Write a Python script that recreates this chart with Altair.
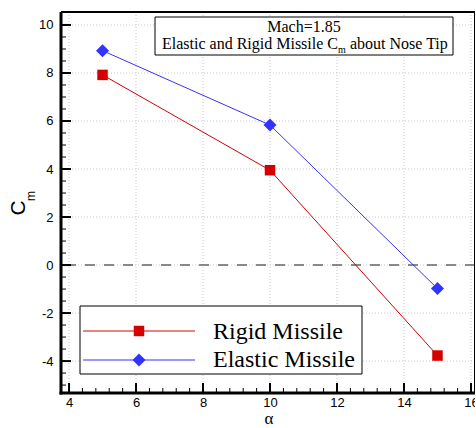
import altair as alt
import pandas as pd

alpha = [5, 10, 15]
rigid = [7.92, 3.95, -3.77]
elastic = [8.93, 5.83, -0.98]

x_major = [4, 6, 8, 10, 12, 14, 16]
y_major = [-4, -2, 0, 2, 4, 6, 8, 10]
x_minor = [round(3.6 + 0.4 * i, 2) for i in range(33)]
y_minor = [round(-5 + 0.5 * i, 2) for i in range(31)]

W, H = 414, 381
XD = [3.76, 16.12]
YD = [-5.33, 10.54]

xs = alt.Scale(domain=XD, nice=False, zero=False)
ys = alt.Scale(domain=YD, nice=False, zero=False)

axis_common = dict(
    labelFont="Liberation Sans", labelFontSize=13, labelColor="black",
    ticks=False, domain=False, grid=False, title=None,
    labelFlush=False, labelOverlap=False, labelExpr="'' + datum.value",
)
XAX = alt.Axis(values=x_major, labelPadding=3, **axis_common)
YAX = alt.Axis(values=y_major, labelPadding=8, **axis_common)


def X(field):
    return alt.X(field, scale=xs, axis=XAX)


def Y(field):
    return alt.Y(field, scale=ys, axis=YAX)


df = pd.DataFrame({
    "alpha": alpha * 2,
    "cm": rigid + elastic,
    "series": ["Rigid Missile"] * 3 + ["Elastic Missile"] * 3,
})
RED = "#d40000"
BLUE = "#3333ff"

# grid
gx = alt.Chart(pd.DataFrame({"v": x_major})).mark_rule(
    color="#c8c8c8", strokeDash=[1, 2], strokeWidth=1
).encode(x=X("v:Q"))
gy = alt.Chart(pd.DataFrame({"v": y_major})).mark_rule(
    color="#c8c8c8", strokeDash=[1, 2], strokeWidth=1
).encode(y=Y("v:Q"))

# zero line
zero = alt.Chart(pd.DataFrame({"v": [0]})).mark_rule(
    color="#666666", strokeDash=[10, 9], strokeWidth=1.5
).encode(y=Y("v:Q"))

# inward ticks
tx_major = alt.Chart(pd.DataFrame({"v": x_major})).mark_rule(color="black", strokeWidth=2).encode(
    x=X("v:Q"), y=alt.value(H), y2=alt.value(H - 10))
tx_minor = alt.Chart(pd.DataFrame({"v": [v for v in x_minor if XD[0] <= v <= XD[1]]})).mark_rule(
    color="black", strokeWidth=1).encode(
    x=X("v:Q"), y=alt.value(H), y2=alt.value(H - 5))
ty_major = alt.Chart(pd.DataFrame({"v": y_major})).mark_rule(color="black", strokeWidth=2).encode(
    y=Y("v:Q"), x=alt.value(0), x2=alt.value(10))
ty_minor = alt.Chart(pd.DataFrame({"v": [v for v in y_minor if YD[0] <= v <= YD[1]]})).mark_rule(
    color="black", strokeWidth=1).encode(
    y=Y("v:Q"), x=alt.value(0), x2=alt.value(5))

one = pd.DataFrame({"a": [0]})

# frame
left = alt.Chart(one).mark_rule(color="black", strokeWidth=3).encode(
    x=alt.value(0), y=alt.value(0), y2=alt.value(H + 1.5))
bottom = alt.Chart(one).mark_rule(color="black", strokeWidth=3).encode(
    y=alt.value(H), x=alt.value(-1.5), x2=alt.value(W + 2))
top = alt.Chart(one).mark_rule(color="black", strokeWidth=2).encode(
    y=alt.value(0), x=alt.value(0), x2=alt.value(W + 2))
right = alt.Chart(one).mark_rule(color="black", strokeWidth=2).encode(
    x=alt.value(W), y=alt.value(0), y2=alt.value(H))

color_scale = alt.Scale(domain=["Rigid Missile", "Elastic Missile"], range=[RED, BLUE])
lines = alt.Chart(df).mark_line(strokeWidth=1).encode(
    x=X("alpha:Q"),
    y=Y("cm:Q"),
    color=alt.Color("series:N", scale=color_scale, legend=None),
    detail="series:N",
)
pts_r = alt.Chart(df[df.series == "Rigid Missile"]).mark_point(
    shape="square", filled=True, size=110, color=RED, opacity=1
).encode(x=X("alpha:Q"), y=Y("cm:Q"))
pts_e = alt.Chart(df[df.series == "Elastic Missile"]).mark_point(
    shape="diamond", filled=True, size=170, color=BLUE, opacity=1
).encode(x=X("alpha:Q"), y=Y("cm:Q"))

# title box
tbox = alt.Chart(one).mark_rect(fill="white", stroke="black", strokeWidth=1).encode(
    x=alt.value(94), x2=alt.value(392), y=alt.value(5), y2=alt.value(43))
t1 = alt.Chart(one).mark_text(font="Liberation Serif", fontSize=16, color="black").encode(
    x=alt.value(243), y=alt.value(15), text=alt.value("Mach=1.85"))
t2a = alt.Chart(one).mark_text(font="Liberation Serif", fontSize=16, color="black", align="right").encode(
    x=alt.value(277), y=alt.value(32), text=alt.value("Elastic and Rigid Missile C"))
t2b = alt.Chart(one).mark_text(font="Liberation Serif", fontSize=10, color="black", align="left").encode(
    x=alt.value(277), y=alt.value(38), text=alt.value("m"))
t2c = alt.Chart(one).mark_text(font="Liberation Serif", fontSize=16, color="black", align="left").encode(
    x=alt.value(289), y=alt.value(32), text=alt.value("about Nose Tip"))

# legend box
lbox = alt.Chart(one).mark_rect(fill="white", stroke="black", strokeWidth=1).encode(
    x=alt.value(19), x2=alt.value(301), y=alt.value(294), y2=alt.value(362))
lr_line = alt.Chart(one).mark_rule(color=RED, strokeWidth=1).encode(
    x=alt.value(22), x2=alt.value(134), y=alt.value(319))
lr_pt = alt.Chart(one).mark_point(shape="square", filled=True, size=110, color=RED, opacity=1).encode(
    x=alt.value(78), y=alt.value(319))
lr_tx = alt.Chart(one).mark_text(font="Liberation Serif", fontSize=24, color="black", align="left").encode(
    x=alt.value(152), y=alt.value(320), text=alt.value("Rigid Missile"))
le_line = alt.Chart(one).mark_rule(color=BLUE, strokeWidth=1).encode(
    x=alt.value(22), x2=alt.value(134), y=alt.value(348))
le_pt = alt.Chart(one).mark_point(shape="diamond", filled=True, size=170, color=BLUE, opacity=1).encode(
    x=alt.value(78), y=alt.value(348))
le_tx = alt.Chart(one).mark_text(font="Liberation Serif", fontSize=24, color="black", align="left").encode(
    x=alt.value(152), y=alt.value(348), text=alt.value("Elastic Missile"))

# axis titles
xt = alt.Chart(one).mark_text(font="Liberation Serif", fontSize=17, color="black",
                             baseline="bottom").encode(
    x=alt.value(208), y=alt.value(416), text=alt.value("α"))
ytC = alt.Chart(one).mark_text(font="Liberation Sans", fontSize=21, color="black", angle=270).encode(
    x=alt.value(-42), y=alt.value(196), text=alt.value("C"))
ytm = alt.Chart(one).mark_text(font="Liberation Sans", fontSize=12, color="black", angle=270,
                              align="left").encode(
    x=alt.value(-30), y=alt.value(189), text=alt.value("m"))

chart = alt.layer(
    gx, gy, zero, lines, pts_r, pts_e,
    tbox, t1, t2a, t2b, t2c,
    lbox, lr_line, lr_pt, lr_tx, le_line, le_pt, le_tx,
    tx_minor, tx_major, ty_minor, ty_major, left, bottom, top, right,
    xt, ytC, ytm,
).properties(
    width=W, height=H,
    padding={"left": 61, "top": 12, "right": 0, "bottom": 35},
    autosize=alt.AutoSizeParams(type="none"),
).configure_view(stroke=None).configure(background="white")

chart.save("out.html", embed_options={"renderer": "svg", "actions": False})
